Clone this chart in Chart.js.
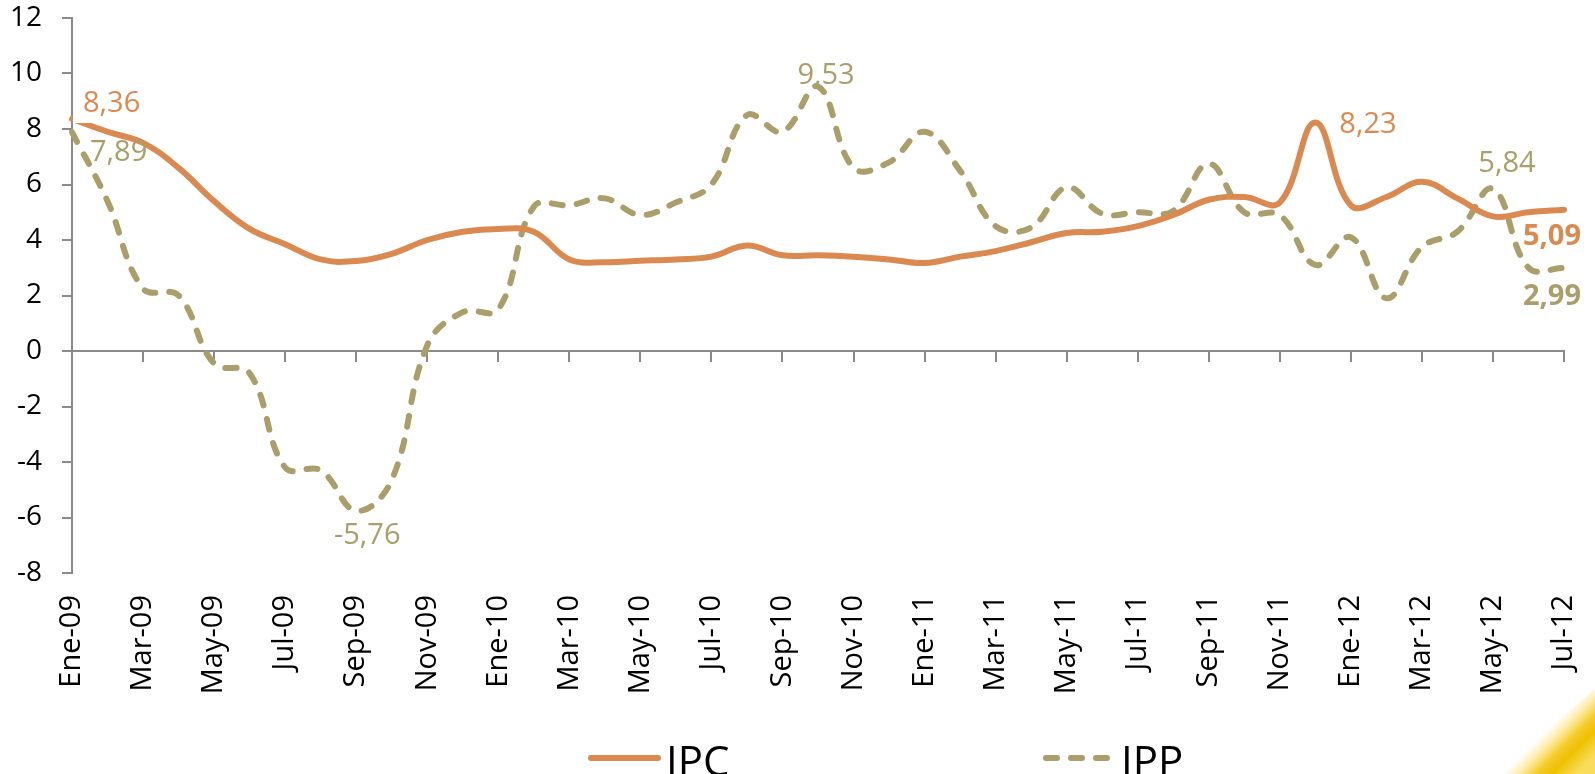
<!DOCTYPE html>
<html lang="es">
<head>
<meta charset="utf-8">
<title>IPC e IPP</title>
<script src="https://cdn.jsdelivr.net/npm/chart.js@4.4.1/dist/chart.umd.min.js"></script>
<style>
  html, body { margin: 0; padding: 0; background: #fff; }
  #contenedor { position: relative; width: 1595px; height: 774px; overflow: hidden; }
  #esquina {
    position: absolute; right: 0; bottom: 0; width: 100px; height: 85px;
    background: linear-gradient(135deg, rgba(255,255,255,0) 50%, #fcefb0 58%, #f4cc2a 68%, #f0c000 76%, #f9dc5c 90%);
    clip-path: polygon(100% 0, 100% 100%, 0 100%);
  }
</style>
</head>
<body>
<div id="contenedor">
  <canvas id="grafico" width="1595" height="774"></canvas>
  <div id="esquina"></div>
</div>
<script>
// meses (variación anual, %)
const meses = [
  'Ene-09', 'Feb-09', 'Mar-09', 'Abr-09', 'May-09', 'Jun-09', 'Jul-09', 'Ago-09', 'Sep-09', 'Oct-09', 'Nov-09', 'Dic-09',
  'Ene-10', 'Feb-10', 'Mar-10', 'Abr-10', 'May-10', 'Jun-10', 'Jul-10', 'Ago-10', 'Sep-10', 'Oct-10', 'Nov-10', 'Dic-10',
  'Ene-11', 'Feb-11', 'Mar-11', 'Abr-11', 'May-11', 'Jun-11', 'Jul-11', 'Ago-11', 'Sep-11', 'Oct-11', 'Nov-11', 'Dic-11',
  'Ene-12', 'Feb-12', 'Mar-12', 'Abr-12', 'May-12', 'Jun-12', 'Jul-12'
];

const ipc = [
  8.36, 7.9, 7.5, 6.6, 5.4, 4.4, 3.85, 3.3, 3.24, 3.5, 4.0, 4.3,
  4.4, 4.3, 3.3, 3.2, 3.25, 3.3, 3.4, 3.8, 3.45, 3.45, 3.4, 3.3,
  3.17, 3.4, 3.6, 3.92, 4.25, 4.3, 4.5, 4.9, 5.45, 5.55, 5.35, 8.23,
  5.25, 5.55, 6.1, 5.5, 4.85, 5.0, 5.09
];

const ipp = [
  7.89, 5.4, 2.25, 2.0, -0.45, -0.8, -4.2, -4.3, -5.76, -4.65, 0.2, 1.4,
  1.5, 5.2, 5.25, 5.5, 4.9, 5.35, 6.0, 8.5, 7.9, 9.53, 6.6, 6.8,
  7.9, 6.5, 4.5, 4.45, 5.9, 4.95, 5.0, 5.05, 6.75, 5.0, 4.9, 3.1,
  4.1, 1.9, 3.75, 4.3, 5.84, 3.0, 2.99
];

const rangoY = [-8, 12];
const pasoY = 2;

const NARANJA = '#da8a50';
const CAQUI = '#aa9f6a';
const GRIS = '#8a8a8a';
const FUENTE = '"Open Sans", sans-serif';

// etiquetas de valor: serie, punto y desplazamiento respecto al punto
const etiquetas = [
  { serie: 0, punto: 0, dx: 11, dy: -15, alinear: 'left', fondo: true },
  { serie: 1, punto: 0, dx: 18, dy: 21, alinear: 'left' },
  { serie: 1, punto: 8, dx: 11, dy: 25, alinear: 'center' },
  { serie: 1, punto: 21, dx: 8, dy: -11, alinear: 'center' },
  { serie: 0, punto: 35, dx: 24, dy: 2, alinear: 'left' },
  { serie: 1, punto: 40, dx: 14, dy: -25, alinear: 'center' },
  { serie: 0, punto: 42, dx: -12, dy: 27, alinear: 'center', negrita: true },
  { serie: 1, punto: 42, dx: -12, dy: 29, alinear: 'center', negrita: true }
];

const formato = v => v.toFixed(2).replace('.', ',');

const valores = {
  id: 'valores',
  afterDatasetsDraw(chart) {
    const ctx = chart.ctx;
    etiquetas.forEach(e => {
      const ds = chart.data.datasets[e.serie];
      const p = chart.getDatasetMeta(e.serie).data[e.punto];
      const x = p.x + e.dx, y = p.y + e.dy;
      ctx.save();
      if (e.fondo) {
        ctx.fillStyle = '#fff';
        ctx.fillRect(p.x + 1, p.y - 41, 74, 45);
      }
      ctx.font = (e.negrita ? 'bold ' : '') + '29px ' + FUENTE;
      ctx.fillStyle = ds.borderColor;
      ctx.textAlign = e.alinear;
      ctx.textBaseline = 'middle';
      ctx.fillText(formato(ds.data[e.punto]), x, y);
      ctx.restore();
    });
  }
};

// leyenda abajo, con muestra de línea de cada serie
const leyenda = {
  id: 'leyenda',
  afterDraw(chart) {
    const ctx = chart.ctx;
    const inicio = [588, 1043];
    const yLinea = 758;
    chart.data.datasets.forEach((ds, i) => {
      const x = inicio[i];
      ctx.save();
      ctx.strokeStyle = ds.borderColor;
      ctx.lineWidth = ds.borderWidth;
      ctx.lineCap = 'round';
      ctx.setLineDash(ds.borderDash || []);
      ctx.beginPath();
      ctx.moveTo(x + 3, yLinea);
      ctx.lineTo(x + 70, yLinea);
      ctx.stroke();
      ctx.setLineDash([]);
      ctx.fillStyle = '#000';
      ctx.font = '42px "Liberation Sans Narrow", "Open Sans", sans-serif';
      ctx.textBaseline = 'alphabetic';
      ctx.fillText(ds.label, x + 78, 776);
      ctx.restore();
    });
  }
};

new Chart(document.getElementById('grafico'), {
  type: 'line',
  data: {
    labels: meses,
    datasets: [
      {
        label: 'IPC', data: ipc, borderColor: NARANJA, borderWidth: 6,
        pointRadius: 0, tension: 0.4, borderCapStyle: 'round', borderJoinStyle: 'round'
      },
      {
        label: 'IPP', data: ipp, borderColor: CAQUI, borderWidth: 6, borderDash: [11, 14],
        pointRadius: 0, tension: 0.4, borderCapStyle: 'round', borderJoinStyle: 'round'
      }
    ]
  },
  options: {
    responsive: false,
    animation: false,
    layout: { padding: { top: 18, right: 31, bottom: 0, left: 0 } },
    plugins: {
      legend: { display: false },
      tooltip: { enabled: false }
    },
    scales: {
      x: {
        type: 'category',
        position: 'bottom',
        offset: false,
        grid: { display: false, drawTicks: false },
        border: { display: false },
        ticks: {
          autoSkip: false,
          maxRotation: 90,
          minRotation: 90,
          padding: 22,
          color: '#000',
          font: { family: FUENTE, size: 29 },
          callback: (v, i) => (i % 2 ? '' : meses[i])
        },
        afterFit: s => {
          s.height = 201;
          s.paddingLeft = 0;
          s.paddingRight = 0;
        }
      },
      cero: {
        type: 'category',
        axis: 'x',
        position: { y: 0 },
        offset: false,
        grid: {
          drawOnChartArea: false,
          drawTicks: true,
          tickLength: 10,
          lineWidth: 2,
          color: c => (c.index % 2 ? 'rgba(0,0,0,0)' : GRIS)
        },
        border: { display: true, color: GRIS, width: 2 },
        ticks: { display: false },
        afterFit: s => {
          s.paddingLeft = 0;
          s.paddingRight = 0;
        }
      },
      y: {
        min: rangoY[0],
        max: rangoY[1],
        grid: { drawOnChartArea: false, drawTicks: true, tickLength: 10, lineWidth: 2, color: GRIS },
        border: { display: true, color: GRIS, width: 2 },
        ticks: {
          stepSize: pasoY,
          padding: 20,
          color: '#000',
          font: { family: FUENTE, size: 28 }
        },
        afterFit: s => {
          s.width = 72;
          s.paddingTop = 0;
          s.paddingBottom = 0;
        }
      }
    }
  },
  plugins: [valores, leyenda]
});
</script>
</body>
</html>
